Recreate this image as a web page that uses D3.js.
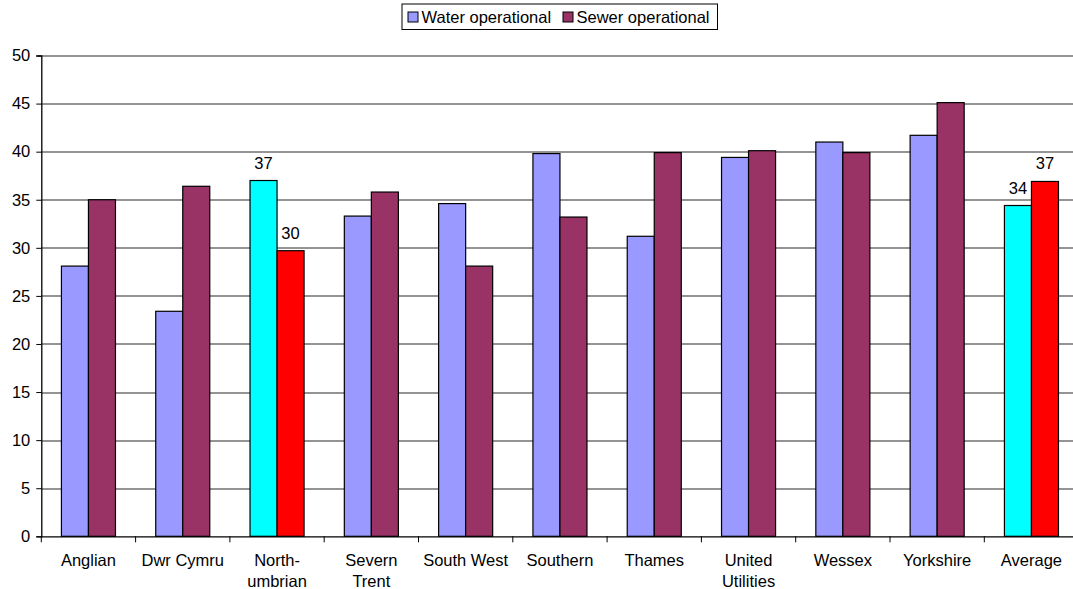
<!DOCTYPE html>
<meta charset="utf-8">
<script src="https://d3js.org/d3.v7.min.js"></script>
<style>
  body { margin: 0; background: #fff; }
  text { font-family: "Liberation Sans", Arial, sans-serif; }
</style>
<div id="my_dataviz"></div>
<script>

// data
var categories = ["Anglian", "Dwr Cymru", "North-|umbrian", "Severn|Trent", "South West",
                  "Southern", "Thames", "United|Utilities", "Wessex", "Yorkshire", "Average"];
var series = ["Water operational", "Sewer operational"];
var water = [28.1, 23.4, 37.0, 33.3, 34.6, 39.8, 31.2, 39.4, 41.0, 41.7, 34.4];
var sewer = [35.0, 36.4, 29.7, 35.8, 28.1, 33.2, 39.9, 40.1, 39.9, 45.1, 36.9];
var yTicks = [0, 5, 10, 15, 20, 25, 30, 35, 40, 45, 50];
var highlighted = ["North-|umbrian", "Average"];

var W = 1073, H = 589;
var margin = {top: 55.5, left: 41.3, bottom: 52.7};
var plotW = 1037.3;
var height = H - margin.top - margin.bottom;
var fontSize = 16.5;

var svg = d3.select("#my_dataviz")
  .append("svg")
    .attr("width", W)
    .attr("height", H)
    .style("display", "block");

var g = svg.append("g")
    .attr("transform", "translate(" + margin.left + "," + margin.top + ")");

var x = d3.scaleBand()
    .domain(categories)
    .range([0, plotW])
    .padding(0);

var xSub = d3.scaleBand()
    .domain(series)
    .range([0, x.bandwidth()])
    .paddingInner(0)
    .paddingOuter(0.745);

var y = d3.scaleLinear()
    .domain([0, 50])
    .range([height, 0]);

var color = d3.scaleOrdinal().domain(series).range(["#9999FF", "#993366"]);
var hiColor = d3.scaleOrdinal().domain(series).range(["#00FFFF", "#FF0000"]);

// gridlines
g.append("g")
  .selectAll("line")
  .data(yTicks.filter(function(d) { return d > 0; }))
  .enter().append("line")
    .attr("x1", 0)
    .attr("x2", W)
    .attr("y1", function(d) { return Math.round(y(d)) + 0.5; })
    .attr("y2", function(d) { return Math.round(y(d)) + 0.5; })
    .attr("stroke", "#707070")
    .attr("stroke-width", 1.3);

// bars
var rows = categories.map(function(c, i) {
  return {cat: c, values: [
    {key: series[0], value: water[i]},
    {key: series[1], value: sewer[i]}
  ]};
});

var groups = g.append("g")
  .selectAll("g")
  .data(rows)
  .enter().append("g")
    .attr("transform", function(d) { return "translate(" + x(d.cat) + ",0)"; });

groups.selectAll("rect")
  .data(function(d) {
    return d.values.map(function(v) {
      return {key: v.key, value: v.value, hi: highlighted.indexOf(d.cat) >= 0};
    });
  })
  .enter().append("rect")
    .attr("x", function(d) { return xSub(d.key); })
    .attr("y", function(d) { return y(d.value); })
    .attr("width", xSub.bandwidth())
    .attr("height", function(d) { return height - y(d.value); })
    .attr("fill", function(d) { return d.hi ? hiColor(d.key) : color(d.key); })
    .attr("stroke", "#000")
    .attr("stroke-width", 1.2);

// data labels on highlighted groups
groups.filter(function(d) { return highlighted.indexOf(d.cat) >= 0; })
  .selectAll("text")
  .data(function(d) { return d.values; })
  .enter().append("text")
    .attr("x", function(d) { return xSub(d.key) + xSub.bandwidth() / 2; })
    .attr("y", function(d) { return y(d.value) - 12; })
    .attr("text-anchor", "middle")
    .attr("font-size", fontSize)
    .attr("fill", "#000")
    .text(function(d) { return Math.round(d.value); });

// y axis
var yAxis = g.append("g")
    .call(d3.axisLeft(y).tickValues(yTicks).tickSize(5).tickPadding(6));
yAxis.select(".domain").attr("stroke", "#000").attr("stroke-width", 1.3);
yAxis.selectAll(".tick line").attr("stroke", "#000");
yAxis.selectAll("text").attr("font-size", fontSize).attr("font-family", "Liberation Sans, Arial").attr("fill", "#000");

// x axis
var xAxis = g.append("g")
    .attr("transform", "translate(0," + height + ")")
    .call(d3.axisBottom(x).tickSize(0).tickFormat(""));
xAxis.select(".domain").attr("stroke", "#000").attr("stroke-width", 1.3);
xAxis.selectAll(".tick").remove();

// boundary ticks between categories
xAxis.selectAll("line.sep")
  .data(categories.concat(["end"]))
  .enter().append("line")
    .attr("class", "sep")
    .attr("x1", function(d, i) { return i * x.step(); })
    .attr("x2", function(d, i) { return i * x.step(); })
    .attr("y1", 0)
    .attr("y2", 6)
    .attr("stroke", "#000");

// category labels (wrapped at "|")
var labels = g.append("g")
  .selectAll("text")
  .data(categories)
  .enter().append("text")
    .attr("x", function(d) { return x(d) + x.bandwidth() / 2; })
    .attr("y", height + 29.5)
    .attr("text-anchor", "middle")
    .attr("font-size", fontSize)
    .attr("fill", "#000");

labels.selectAll("tspan")
  .data(function(d) { return d.split("|"); })
  .enter().append("tspan")
    .attr("x", function() { return this.parentNode.getAttribute("x"); })
    .attr("dy", function(d, i) { return i === 0 ? 0 : 21; })
    .text(function(d) { return d; });

// legend
var legend = svg.append("g").attr("transform", "translate(402,4)");
legend.append("rect")
    .attr("width", 315.5)
    .attr("height", 25.5)
    .attr("fill", "#fff")
    .attr("stroke", "#000");

var items = [{key: series[0], x: 6}, {key: series[1], x: 161}];
items.forEach(function(it) {
  legend.append("rect")
    .attr("x", it.x)
    .attr("y", 8)
    .attr("width", 10)
    .attr("height", 10)
    .attr("fill", color(it.key))
    .attr("stroke", "#000");
  legend.append("text")
    .attr("x", it.x + 13.5)
    .attr("y", 19)
    .attr("font-size", fontSize)
    .attr("fill", "#000")
    .text(it.key);
});

</script>
